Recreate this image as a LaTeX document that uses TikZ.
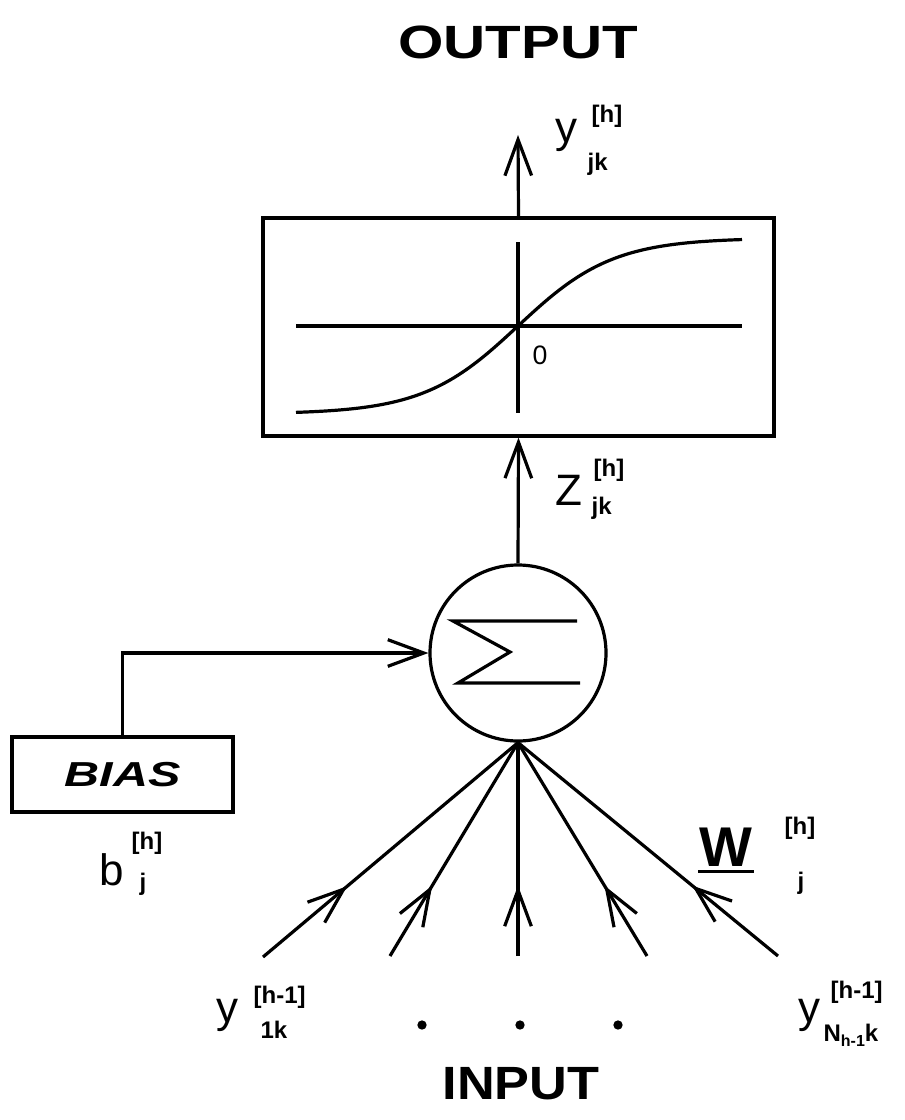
\documentclass[tikz,border=0pt]{standalone}
\usepackage{fontspec}
\setmainfont{Liberation Sans}
\usepackage{graphicx}
\usetikzlibrary{arrows.meta,decorations.markings,calc}
\begin{document}
\begin{tikzpicture}[x=0.75pt,y=-0.75pt, line width=2.4pt, line join=miter,
  barb/.style={-{Straight Barb[length=27pt,width=20pt]}},
  inarrow/.style={postaction={decorate}, decoration={markings, mark=at position 0.33 with {\arrow{Straight Barb[length=27pt,width=20pt]}}}},
  mainl/.style={inner sep=0pt, anchor=base west, font=\fontsize{33}{33}\selectfont},
  supl/.style={inner sep=0pt, anchor=base west, font=\fontsize{18}{18}\selectfont\bfseries},
  title/.style={inner sep=0pt, font=\fontsize{35}{35}\selectfont\bfseries},
  dot/.style={circle, fill, inner sep=0pt, minimum size=7pt}
]
\useasboundingbox (0,0) rectangle (905,1120);

% titles
\node[title] (outlbl) at (518,42) {\scalebox{1.25}[1]{OUTPUT}};
\node[title] (inlbl) at (521,1084) {\scalebox{1.12}[1]{INPUT}};

% activation box
\node[draw, minimum width=383.25pt, minimum height=163.5pt, inner sep=0pt] (act) at (518.5,327) {};
\draw (296,326) -- (742,326);
\draw (518,242) -- (518,413);
\draw plot[domain=296:742, samples=80, smooth] (\x, {326-88*tanh((\x-518)/95)});
\node[inner sep=0pt, font=\fontsize{20}{20}\selectfont] (zero) at (540,355) {0};

% output arrow
\coordinate (out) at (518,135);
\draw[barb] (act.north) -- (out);
\node[mainl] (yo) at (554,143) {y};
\node[supl] (yoh) at (590,123) {[h]};
\node[supl] (yojk) at (586,171) {jk};

% summation
\node[draw, circle, minimum size=132pt, inner sep=0pt] (sum) at (518,653) {};
\draw (577,621) -- (453,621) -- (510,652) -- (458,683) -- (580,683);
\draw[barb] (sum.north) -- (act.south);
\node[mainl] (zl) at (554,505) {Z};
\node[supl] (zh) at (592,476) {[h]};
\node[supl] (zjk) at (590,514) {jk};

% bias
\node[draw, minimum width=165.75pt, minimum height=56.25pt, inner sep=0pt] (bias) at (122.5,774.5)
  {\scalebox{1.4}[1]{\fontsize{26}{26}\selectfont\bfseries\itshape BIAS}};
\draw[barb] (bias.north) |- (sum.west);
\node[mainl] (bl) at (98,885) {b};
\node[supl] (bh) at (130,849) {[h]};
\node[supl] (bj) at (138,890) {j};

% inputs
\coordinate (in1) at (263,957);
\coordinate (in2) at (390,956);
\coordinate (in3) at (518,956);
\coordinate (in4) at (647,956);
\coordinate (in5) at (778,956);
\foreach \i in {1,...,5} { \draw[inarrow] (in\i) -- (sum.south); }

% weights
\node[inner sep=0pt, anchor=base west, font=\fontsize{42}{42}\selectfont\bfseries] (W) at (698,866) {W};
\draw ([yshift=-4pt]W.base west) -- ([yshift=-4pt]W.base east);
\node[supl] (Wh) at (783,834) {[h]};
\node[supl] (Wj) at (796,889) {j};

% input labels
\node[mainl] (y1) at (215,1022) {y};
\node[supl] (y1h) at (252,1003) {[h-1]};
\node[supl] (y1k) at (259,1038) {1k};
\node[mainl] (yn) at (797,1022) {y};
\node[supl] (ynh) at (829,998) {[h-1]};
\node[supl] (ynN) at (822,1041) {N\raisebox{-4pt}{\fontsize{12}{12}\selectfont h-1}k};

% dots
\node[dot] (d1) at (422,1025) {};
\node[dot] (d2) at (520,1025) {};
\node[dot] (d3) at (618,1025) {};
\end{tikzpicture}
\end{document}
